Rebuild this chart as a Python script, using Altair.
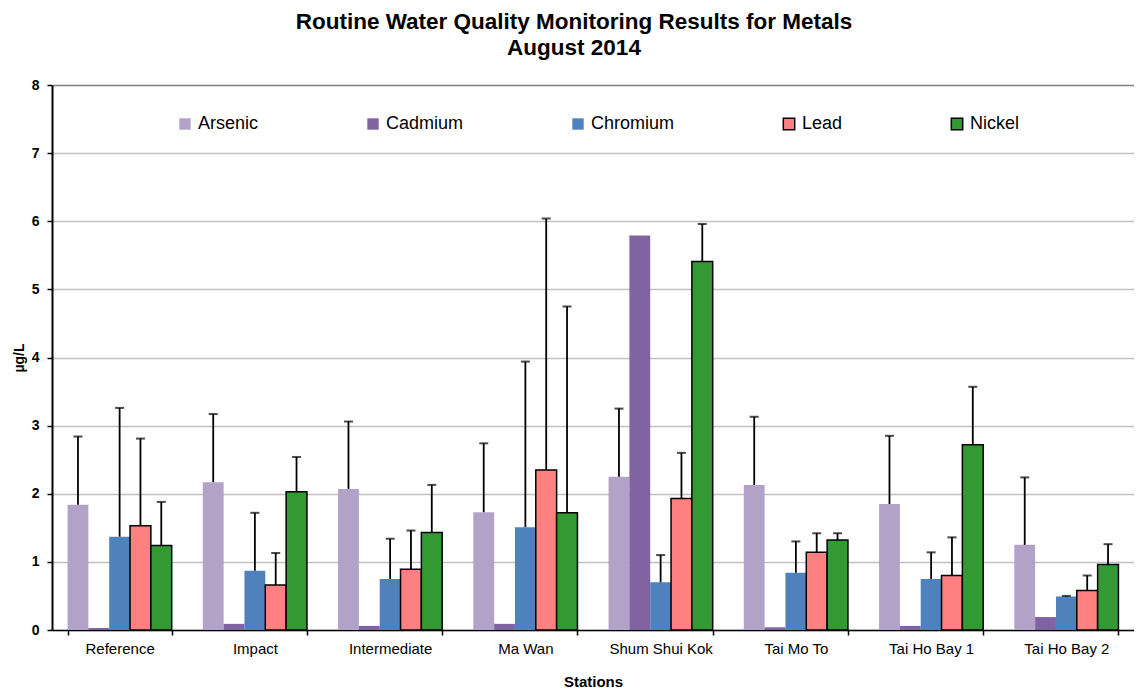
import altair as alt
import pandas as pd

stations = ["Reference", "Impact", "Intermediate", "Ma Wan", "Shum Shui Kok",
            "Tai Mo To", "Tai Ho Bay 1", "Tai Ho Bay 2"]
metals = ["Arsenic", "Cadmium", "Chromium", "Lead", "Nickel"]
colors = ["#B3A2C7", "#8064A2", "#4F81BD", "#FF8080", "#339933"]

arsenic = [1.84, 2.17, 2.07, 1.73, 2.25, 2.13, 1.85, 1.25]
cadmium = [0.03, 0.09, 0.06, 0.09, 5.79, 0.04, 0.06, 0.19]
chromium = [1.37, 0.87, 0.75, 1.51, 0.70, 0.84, 0.75, 0.49]
lead = [1.53, 0.66, 0.89, 2.35, 1.93, 1.14, 0.80, 0.58]
nickel = [1.24, 2.03, 1.43, 1.72, 5.41, 1.32, 2.72, 0.96]

# upper end of each error bar (mean + SD); Cadmium has none
arsenic_hi = [2.84, 3.17, 3.06, 2.74, 3.25, 3.13, 2.85, 2.24]
chromium_hi = [3.26, 1.72, 1.34, 3.94, 1.10, 1.30, 1.14, 0.50]
lead_hi = [2.81, 1.13, 1.46, 6.04, 2.60, 1.42, 1.36, 0.80]
nickel_hi = [1.88, 2.54, 2.13, 4.75, 5.96, 1.42, 3.57, 1.26]

values = {"Arsenic": arsenic, "Cadmium": cadmium, "Chromium": chromium,
          "Lead": lead, "Nickel": nickel}
highs = {"Arsenic": arsenic_hi, "Chromium": chromium_hi, "Lead": lead_hi,
         "Nickel": nickel_hi}

rows = []
for m in metals:
    for i, s in enumerate(stations):
        rows.append({"station": s, "metal": m, "value": values[m][i],
                     "hi": highs[m][i] if m in highs else None})
df = pd.DataFrame(rows)

FONT = "Liberation Sans"

x_axis = alt.Axis(labelAngle=0, tickBand="extent", labelFontSize=15,
                  labelFont=FONT, labelColor="black", domainColor="black",
                  domainWidth=1.5, tickColor="black", tickWidth=1.5,
                  tickSize=5, labelPadding=6, titleFont=FONT,
                  titleFontSize=15, titleFontWeight="bold",
                  titleColor="black", titlePadding=18, grid=False)
x_scale = alt.Scale(paddingInner=0.23, paddingOuter=0.115)
xo = alt.XOffset("metal:N", sort=metals,
                 scale=alt.Scale(domain=metals, paddingInner=0, paddingOuter=0))
y_axis = alt.Axis(values=list(range(9)), labelFontSize=14,
                  labelFont=FONT, labelFontWeight="bold",
                  labelColor="black", domainColor="black", domainWidth=2,
                  tickColor="black", tickWidth=1.5, tickSize=5,
                  labelPadding=8, titleFont=FONT, titleFontSize=14,
                  titleFontWeight="bold", titleColor="black",
                  titlePadding=5,
                  gridColor={"condition": {"test": "datum.value === 8",
                                           "value": "#808080"},
                             "value": "#c0c0c0"},
                  gridWidth=1.5)
y_scale = alt.Scale(domain=[0, 8], nice=False)


def xenc():
    return alt.X("station:N", sort=stations, title="Stations",
                 scale=x_scale, axis=x_axis)


legend = alt.Legend(title=None, orient="none", legendX=124, legendY=30,
                    direction="horizontal", columns=5, gridAlign="each",
                    columnPadding=105, symbolType="square", symbolSize=130,
                    symbolStrokeWidth=1.5, labelFont=FONT, labelFontSize=18,
                    labelColor="black", labelOffset=4, padding=0)

bars = alt.Chart(df).mark_bar(strokeWidth=1.5).encode(
    x=xenc(), xOffset=xo,
    y=alt.Y("value:Q", title="µg/L", scale=y_scale, axis=y_axis),
    color=alt.Color("metal:N", sort=metals,
                    scale=alt.Scale(domain=metals, range=colors), legend=legend),
    stroke=alt.Stroke("metal:N", sort=metals,
                      scale=alt.Scale(domain=metals,
                                      range=["transparent", "transparent",
                                             "transparent", "black", "black"]),
                      legend=legend),
)

err = alt.Chart(df).transform_filter("datum.hi != null")

rules = err.mark_rule(color="black", strokeWidth=1.8).encode(
    x=xenc(), xOffset=xo,
    y=alt.Y("value:Q", title="µg/L", scale=y_scale, axis=y_axis), y2="hi:Q")

caps = err.mark_tick(color="black", thickness=2, size=9,
                     orient="horizontal").encode(
    x=xenc(), xOffset=xo,
    y=alt.Y("hi:Q", title="µg/L", scale=y_scale, axis=y_axis))

chart = alt.layer(bars, rules, caps).properties(
    width=1082, height=545,
    autosize=alt.AutoSizeParams(type="none"),
    padding={"left": 44, "top": 77, "right": 0, "bottom": 60},
    title=alt.TitleParams(
        text=["Routine Water Quality Monitoring Results for Metals",
              "August 2014"],
        font=FONT, fontSize=22.5, fontWeight="bold", color="black",
        anchor="middle", dx=-19, offset=19, lineHeight=26),
).configure_view(stroke=None).configure(background="white")

chart.save("out.html", embed_options={"renderer": "svg", "actions": False})
